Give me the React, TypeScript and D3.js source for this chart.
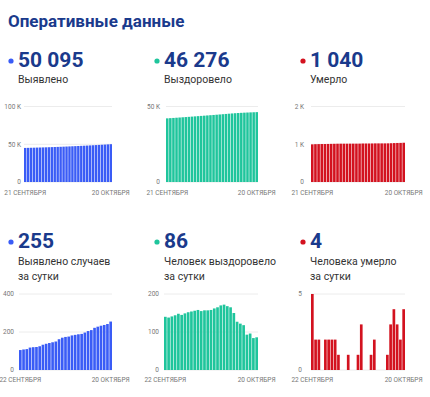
import * as d3 from 'd3';
import { useEffect, useRef } from 'react';

const title = 'Оперативные данные';

// cumulative totals, 21 Sep - 20 Oct
const casesTotal = [
  45123, 45228, 45336, 45446, 45564, 45684, 45805, 45930, 46063, 46201, 46343, 46489, 46639, 46801, 46971,
  47145, 47321, 47503, 47688, 47876, 48066, 48263, 48468, 48678, 48900, 49128, 49361, 49598, 49840, 50095,
];
const recoveredTotal = [
  42146, 42286, 42424, 42565, 42709, 42857, 43002, 43151, 43303, 43457, 43613, 43771, 43926, 44083, 44240,
  44398, 44560, 44725, 44895, 45067, 45235, 45400, 45550, 45677, 45799, 45917, 46010, 46106, 46190, 46276,
];
const deathsTotal = [
  997, 1002, 1004, 1006, 1006, 1008, 1010, 1012, 1014, 1015, 1015, 1015, 1016, 1016, 1016,
  1017, 1020, 1020, 1020, 1021, 1023, 1023, 1023, 1023, 1024, 1027, 1031, 1034, 1036, 1040,
];

// daily values, 22 Sep - 20 Oct
const casesDaily = [
  105, 108, 110, 118, 120, 121, 125, 133, 138, 142, 146, 150, 162, 170, 174,
  176, 182, 185, 188, 190, 197, 205, 210, 222, 228, 233, 237, 242, 255,
];
const recoveredDaily = [
  140, 138, 141, 144, 148, 145, 149, 152, 154, 156, 158, 155, 157, 157, 158,
  162, 165, 170, 172, 168, 165, 150, 127, 122, 118, 93, 96, 84, 86,
];
const deathsDaily = [5, 2, 2, 0, 2, 2, 2, 2, 1, 0, 0, 1, 0, 0, 1, 3, 0, 0, 1, 2, 0, 0, 0, 1, 3, 4, 3, 2, 4];

const headlines = ['50 095', '46 276', '1 040', '255', '86', '4'];
const captions = [
  ['Выявлено'],
  ['Выздоровело'],
  ['Умерло'],
  ['Выявлено случаев', 'за сутки'],
  ['Человек выздоровело', 'за сутки'],
  ['Человека умерло', 'за сутки'],
];
const totalDateLabels = ['21 СЕНТЯБРЯ', '20 ОКТЯБРЯ'];
const dailyDateLabels = ['22 СЕНТЯБРЯ', '20 ОКТЯБРЯ'];

const totalTicks = [[0, 50000, 100000], [0, 50000], [0, 1000, 2000]];
const dailyTicks = [[0, 200, 400], [0, 100, 200], [0, 5]];

const NAVY = '#1a3a8c';
const COLORS = ['#3a5cf6', '#1fc59c', '#d3121f'];
const FONT = 'Roboto, "Noto Sans", sans-serif';

const W = 430;
const H = 397;

export default function App() {
  const svgRef = useRef<SVGSVGElement | null>(null);

  useEffect(() => {
    const svgElement = svgRef.current;
    if (!svgElement) return;
    const svg = d3.select(svgElement);
    svg.selectAll('*').remove();

    svg
      .append('text')
      .attr('x', 8)
      .attr('y', 27)
      .attr('font-family', FONT)
      .attr('font-weight', 700)
      .attr('font-size', 17)
      .attr('fill', NAVY)
      .text(title);

    const colX = [18, 164, 310];
    const rows = [
      {
        numBase: 67, capBase: 83, top: 106.5, bottom: 182, xLab: 194.5,
        plots: [[24, 112], [166, 258], [311, 405]], labRight: [21, 160, 304],
        series: [casesTotal, recoveredTotal, deathsTotal], ticks: totalTicks, dates: totalDateLabels,
        fmt: (v: number) => (v === 0 ? '0' : `${v / 1000} K`),
      },
      {
        numBase: 248, capBase: 265, top: 294, bottom: 370, xLab: 381.5,
        plots: [[19, 112], [164, 258], [311, 405]], labRight: [14, 159, 302],
        series: [casesDaily, recoveredDaily, deathsDaily], ticks: dailyTicks, dates: dailyDateLabels,
        fmt: (v: number) => `${v}`,
      },
    ];

    rows.forEach((row, r) => {
      colX.forEach((cx, c) => {
        const idx = r * 3 + c;
        const color = COLORS[c];
        const g = svg.append('g');

        // headline
        g.append('circle').attr('cx', cx - 7).attr('cy', row.numBase - 6).attr('r', 2.6).attr('fill', color);
        g.append('text')
          .attr('x', cx)
          .attr('y', row.numBase)
          .attr('font-family', FONT)
          .attr('font-weight', 700)
          .attr('font-size', 21)
          .attr('fill', NAVY)
          .text(headlines[idx]);
        captions[idx].forEach((line, i) => {
          g.append('text')
            .attr('x', cx)
            .attr('y', row.capBase + i * 15)
            .attr('font-family', FONT)
            .attr('font-size', 10.5)
            .attr('fill', '#333')
            .text(line);
        });

        // bars
        const values = row.series[c];
        const ticks = row.ticks[c];
        const [x0, x1] = row.plots[c];
        const x = d3.scaleBand<number>().domain(d3.range(values.length)).range([x0, x1]).paddingInner(0.18);
        const y = d3.scaleLinear().domain([0, ticks[ticks.length - 1]]).range([row.bottom, row.top]);

        g.selectAll('line.grid')
          .data(ticks)
          .join('line')
          .attr('class', 'grid')
          .attr('x1', x0)
          .attr('x2', x1)
          .attr('y1', (d) => y(d))
          .attr('y2', (d) => y(d))
          .attr('stroke', '#ececec')
          .attr('stroke-width', 1);

        g.selectAll('text.ytick')
          .data(ticks)
          .join('text')
          .attr('class', 'ytick')
          .attr('x', row.labRight[c])
          .attr('y', (d) => y(d) + 2.3)
          .attr('text-anchor', 'end')
          .attr('font-family', FONT)
          .attr('font-size', 6.5)
          .attr('fill', '#777')
          .text((d) => row.fmt(d));

        g.selectAll('rect.bar')
          .data(values)
          .join('rect')
          .attr('class', 'bar')
          .attr('x', (_, i) => x(i)!)
          .attr('width', x.bandwidth())
          .attr('y', (d) => y(d))
          .attr('height', (d) => row.bottom - y(d))
          .attr('fill', color);

        // first / last date
        const ends = [0, values.length - 1];
        g.selectAll('text.xtick')
          .data(ends)
          .join('text')
          .attr('class', 'xtick')
          .attr('x', (i) => x(i)! + x.bandwidth() / 2)
          .attr('y', row.xLab)
          .attr('text-anchor', 'middle')
          .attr('font-family', FONT)
          .attr('font-size', 6.5)
          .attr('fill', '#777')
          .text((_, i) => row.dates[i]);
      });
    });
  }, []);

  return (
    <svg
      ref={svgRef}
      width={W}
      height={H}
      style={{ position: 'absolute', left: 0, top: 0, background: '#fff' }}
    />
  );
}
